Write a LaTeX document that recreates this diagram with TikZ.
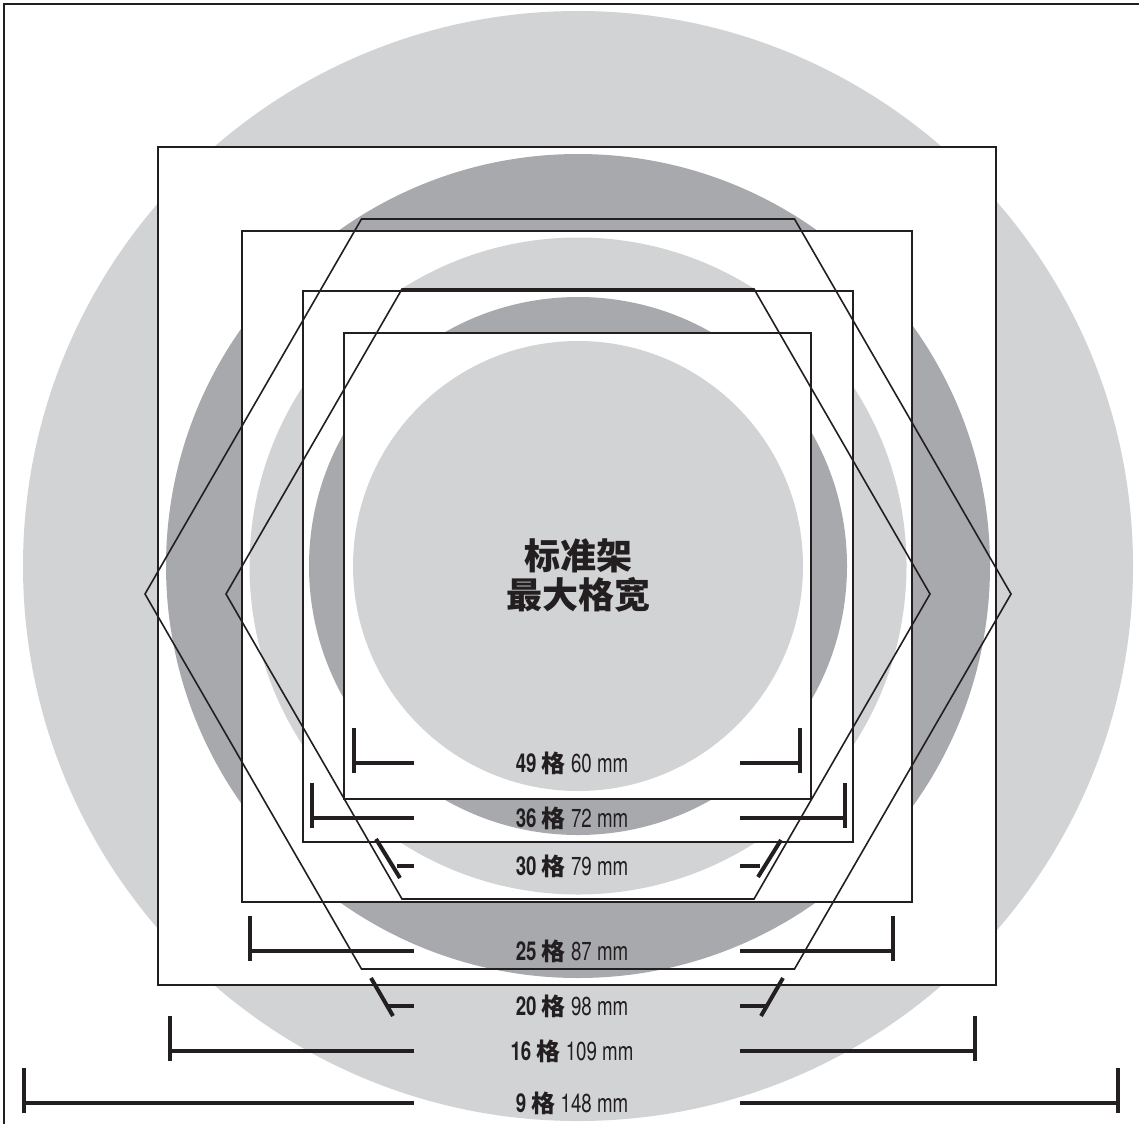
\documentclass[tikz,border=0pt]{standalone}
\usepackage{fontspec}
\setmainfont{TeX Gyre Heros}[FakeStretch=0.72]
\newfontfamily\cjk{Noto Sans CJK SC}
\definecolor{lg}{HTML}{D1D3D4}
\definecolor{dg}{HTML}{A7A9AC}
\definecolor{ink}{HTML}{231F20}
\newcommand{\gezi}{{\cjk\bfseries\fontsize{24}{26}\selectfont 格}}
\begin{document}
\begin{tikzpicture}[x=1pt,y=-1pt,
  sq/.style={draw=ink, line width=1.6pt, fill=white},
  hexa/.style={draw=ink, line width=1.6pt, line join=miter},
  bar/.style={draw=ink, line width=4pt, line cap=butt},
  lab/.style={text=ink, font=\fontsize{26}{28}\selectfont, inner sep=0pt, anchor=base}]
\useasboundingbox (0,0) rectangle (1139,1124);
\fill[white] (0,0) rectangle (1139,1124);
% discs and white squares
\fill[lg] (578,566) circle (555pt);
\draw[sq] (158,147) rectangle (996,985);
\fill[dg] (578,566) circle (412pt);
\draw[sq] (242,231) rectangle (912,902);
\fill[lg] (578,566) circle (328.5pt);
\draw[sq] (303,291) rectangle (853,842);
\fill[dg] (578,566) circle (269pt);
\draw[sq] (344,333) rectangle (811,799);
\fill[lg] (578,566) circle (225pt);
% hexagons
\draw[hexa] (145,594) -- (361.5,219) -- (794.5,219) -- (1011,594) -- (794.5,969) -- (361.5,969) -- cycle;
\draw[hexa] (226,594) -- (402,289) -- (754,289) -- (930,594) -- (754,899) -- (402,899) -- cycle;
% frame
\draw[ink, line width=2.5pt] (4,1124) -- (4,4) -- (1139,4);
% title
\node[text=ink, align=center, font=\cjk\bfseries\fontsize{36}{39}\selectfont, inner sep=0pt] (title) at (578,575) {标准架\\最大格宽};
% dimension bars with vertical ticks
\foreach \y/\xl/\xr in {763/354/800, 818/312/845, 951/250/893, 1051/170/975, 1103/24/1118}{
  \draw[bar] (\xl,\y-35) -- (\xl,\y+10);
  \draw[bar] (\xl,\y) -- (414,\y);
  \draw[bar] (\xr,\y-35) -- (\xr,\y+10);
  \draw[bar] (740,\y) -- (\xr,\y);
}
% dimension bars with slanted ticks
\draw[bar] (376,839) -- (400,878);
\draw[bar] (397,866) -- (414,866);
\draw[bar] (781,840) -- (758,877);
\draw[bar] (740,866) -- (760,866);
\draw[bar] (371,978) -- (393,1016);
\draw[bar] (387,1006) -- (414,1006);
\draw[bar] (783,978) -- (761,1016);
\draw[bar] (740,1006) -- (767,1006);
% labels
\node[lab] (l49) at (572,772) {\textbf{49} \gezi{} 60 mm};
\node[lab] (l36) at (572,827) {\textbf{36} \gezi{} 72 mm};
\node[lab] (l30) at (572,875) {\textbf{30} \gezi{} 79 mm};
\node[lab] (l25) at (572,960) {\textbf{25} \gezi{} 87 mm};
\node[lab] (l20) at (572,1015) {\textbf{20} \gezi{} 98 mm};
\node[lab] (l16) at (572,1060) {\textbf{16} \gezi{} 109 mm};
\node[lab] (l9) at (572,1112) {\textbf{9} \gezi{} 148 mm};
\end{tikzpicture}
\end{document}
